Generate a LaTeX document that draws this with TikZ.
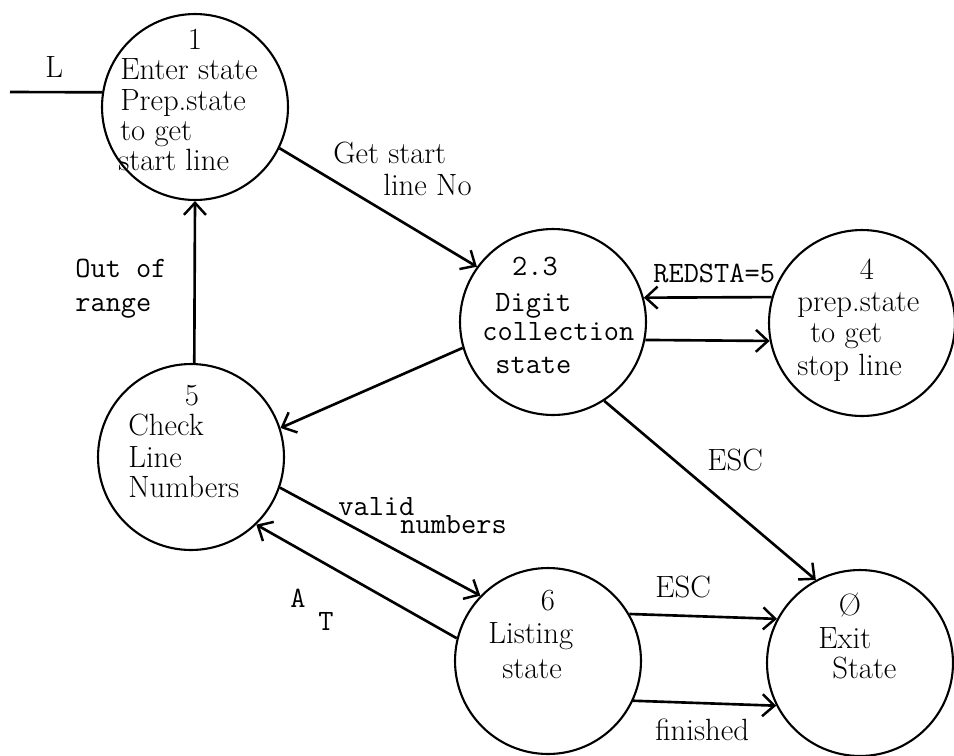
\documentclass[tikz,border=0pt]{standalone}
\usepackage{fontspec}
\usetikzlibrary{arrows.meta}
\newcommand\pfont{\fontsize{17.5}{19}\selectfont}
\newcommand\mfont{\ttfamily\fontsize{16.8}{17.6}\selectfont}
\tikzset{
  state/.style={circle, draw, line width=1.2pt, minimum size=3.72cm, inner sep=0pt},
  conn/.style={line width=1.5pt},
  arr/.style={conn, -{Straight Barb[length=2.4mm,width=4.4mm,line width=1.4pt]}},
  pt/.style={inner sep=0pt, anchor=base west, font=\pfont},
  mt/.style={inner sep=0pt, anchor=base west, font=\mfont},
  pc/.style={inner sep=0pt, anchor=base, font=\pfont},
  mc/.style={inner sep=0pt, anchor=base, font=\mfont},
}
\begin{document}
\begin{tikzpicture}[x=0.02cm, y=-0.02cm]
\useasboundingbox (0,0) rectangle (954,755);
% states
\node[state] (c1) at (195,107) {};
\node[state] (c23) at (553,322) {};
\node[state] (c4) at (862,323) {};
\node[state] (c5) at (191,457) {};
\node[state] (c6) at (548,661) {};
\node[state] (c0) at (860,663) {};
% texts of state 1
\node[pc] (t1n) at (195,49) {1};
\node[pt] (t1a) at (120,79) {Enter state};
\node[pt] (t1b) at (120,110) {Prep.state};
\node[pt] (t1c) at (120,140) {to get};
\node[pt] (t1d) at (118,170) {start line};
% state 2.3
\node[mc] (t2n) at (535,275) {2.3};
\node[mt] (t2a) at (495,311) {Digit};
\node[mt] (t2b) at (482,340) {collection};
\node[mt] (t2c) at (495,373) {state};
% state 4
\node[pc] (t4n) at (867,279) {4};
\node[pt] (t4a) at (797,311) {prep.state};
\node[pt] (t4b) at (810,342) {to get};
\node[pt] (t4c) at (797,375) {stop line};
% state 5
\node[pc] (t5n) at (192,405) {5};
\node[pt] (t5a) at (128,435) {Check};
\node[pt] (t5b) at (128,467) {Line};
\node[pt] (t5c) at (128,497) {Numbers};
% state 6
\node[pc] (t6n) at (548,610) {6};
\node[pt] (t6a) at (488,643) {Listing};
\node[pt] (t6b) at (502,678) {state};
% state 0
\node[pc] (t0n) at (850,615) {Ø};
\node[pt] (t0a) at (818,648) {Exit};
\node[pt] (t0b) at (832,678) {State};
% entry
\coordinate (Lstart) at (10,92);
\draw[conn] (Lstart) -- (c1.171);
\node[pt] (lL) at (45,77) {L};
% connectors
\draw[arr] (c1.-26) -- (c23.144);
\node[pt] (lg1) at (333,163) {Get start};
\node[pt] (lg2) at (383,195) {line No};
\draw[arr] (c5.88) -- (c1.270);
\node[mt] (lo1) at (75,277) {Out of};
\node[mt] (lo2) at (75,311) {range};
\draw[arr] (c4.164) -- (c23.15);
\node[mt] (lr) at (653,282) {REDSTA=5};
\draw[arr] (c23.-11) -- (c4.191);
\draw[arr] (c23.196) -- (c5.18);
\draw[arr] (c23.-57) -- (c0.118);
\node[pt] (le1) at (707,470) {ESC};
\draw[arr] (c5.-19) -- (c6.136);
\node[mt] (lv1) at (338,515) {valid};
\node[mt] (lv2) at (400,533) {numbers};
\draw[arr] (c6.166) -- (c5.-46);
\node[mt] (lA) at (290,607) {A};
\node[mt] (lT) at (318,630) {T};
\draw[arr] (c6.30) -- (c0.152);
\node[pt] (le2) at (655,597) {ESC};
\draw[arr] (c6.-25) -- (c0.207);
\node[pt] (lf) at (655,740) {finished};
\end{tikzpicture}
\end{document}
